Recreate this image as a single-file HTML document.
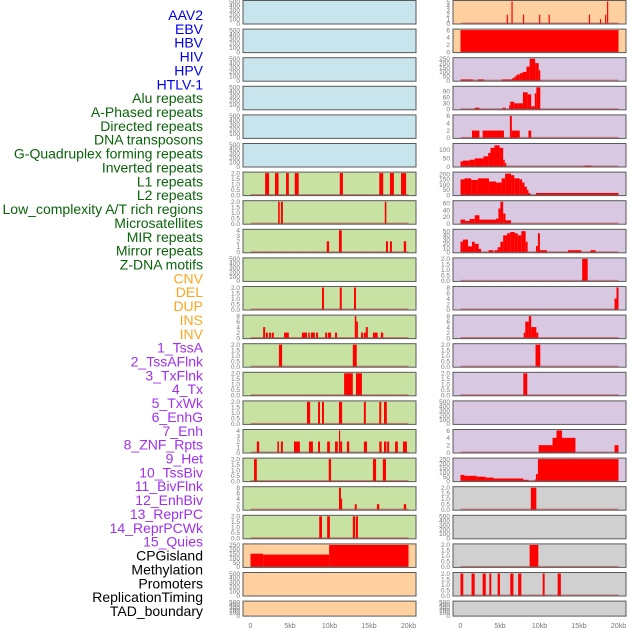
<!DOCTYPE html>
<html><head><meta charset="utf-8">
<style>
html,body{margin:0;padding:0;background:#fff;width:630px;height:630px;overflow:hidden}
svg{display:block;font-family:"Liberation Sans",sans-serif}
</style></head>
<body>
<svg id="chart" width="630" height="630" viewBox="0 0 630 630"></svg>
<script>
const labels=["AAV2","EBV","HBV","HIV","HPV","HTLV-1","Alu repeats","A-Phased repeats","Directed repeats","DNA transposons","G-Quadruplex forming repeats","Inverted repeats","L1 repeats","L2 repeats","Low_complexity A/T rich regions","Microsatellites","MIR repeats","Mirror repeats","Z-DNA motifs","CNV","DEL","DUP","INS","INV","1_TssA","2_TssAFlnk","3_TxFlnk","4_Tx","5_TxWk","6_EnhG","7_Enh","8_ZNF_Rpts","9_Het","10_TssBiv","11_BivFlnk","12_EnhBiv","13_ReprPC","14_ReprPCWk","15_Quies","CPGisland","Methylation","Promoters","ReplicationTiming","TAD_boundary"];
const labelGroups=[6,13,5,15,5];
const groupColors=["#0000ee","#0a640a","#ffa520","#a030f0","#000000"];
const xTickValues=[0,5,10,15,20];
const xTickLabels=["0","5kb","10kb","15kb","20kb"];
// segment data: [startKb, endKb, value]
const L6=[[1.85,2.35,2],[3.1,3.55,2],[4.5,4.85,2],[5.6,6.1,2],[11.3,11.7,2],[16.3,16.8,2],[17.65,18.15,2],[19.05,19.7,2]];
const L7=[[3.5,3.7,2],[3.85,4.1,2],[17.0,17.2,2]];
const L8=[[9.65,9.95,2],[11.2,11.55,4],[17.15,17.4,2],[17.65,17.9,2],[19.4,19.7,2]];
const L10=[[9.05,9.3,2],[11.3,11.55,2],[13.1,13.35,2]];
const L11=[[1.6,1.85,4],[1.95,2.2,2],[2.35,2.6,2],[2.7,2.95,2],[4.25,4.85,2],[6.5,7.15,2],[7.3,7.5,2],[7.65,8.15,2],[8.3,8.55,2],[9.45,9.7,2],[9.8,10.2,2],[10.7,10.95,2],[13.2,13.4,8],[13.4,13.6,6],[14.0,14.25,2],[14.35,14.6,2],[14.6,14.85,4],[15.5,16.1,2],[16.5,16.8,2]];
const L12=[[3.6,4.0,2],[12.95,13.45,2]];
const L13=[[11.85,12.95,2],[13.35,14.1,2]];
const L14=[[7.15,7.55,2],[8.55,8.8,2],[9.05,9.3,2],[11.2,11.6,2],[14.35,14.6,2],[16.3,16.55,2],[16.9,17.25,2]];
const L15=[[0.8,1.1,2],[3.4,3.6,2],[3.85,4.1,2],[5.5,6.25,2],[7.4,7.9,2],[8.55,8.8,2],[9.7,10.05,2],[10.7,11.05,2],[11.2,11.35,4],[11.35,11.6,2],[12.2,12.5,2],[14.35,14.75,2],[16.3,16.6,2],[16.9,17.2,2],[17.3,17.55,2],[18.3,18.65,2],[19.3,19.8,2]];
const L16=[[0.45,0.8,2],[9.9,10.2,2],[15.5,15.9,2],[16.75,17.15,2]];
const L17=[[11.2,11.45,8],[11.45,11.6,4],[13.2,13.45,2],[16.0,16.3,2],[19.4,19.7,2]];
const L18=[[8.7,9.05,2],[9.7,10.05,2],[12.95,13.25,2],[13.35,13.6,2]];
const L19=[[0,1.6,150],[1.6,9.95,140],[9.95,20,250]];
const R0=[[5.85,6.0,2],[6.45,6.6,5],[7.9,8.05,2],[9.95,10.1,2],[11.15,11.3,2],[16.25,16.4,2],[17.65,17.8,1],[18.3,18.45,2],[18.55,18.7,5]];
const R1=[[0,20,6]];
const R2=[[0,1.6,15],[2.15,3.0,15],[5.2,6.55,15],[6.55,6.85,30],[6.85,7.1,50],[7.1,7.5,70],[7.5,7.85,85],[7.85,8.35,100],[8.35,8.75,160],[8.75,9.45,250],[9.45,9.9,200],[9.9,10.1,120]];
const R3=[[1.8,2.4,8],[5.3,5.7,8],[6.15,6.3,20],[6.3,6.8,38],[6.8,7.3,30],[7.3,7.9,30],[7.9,8.5,85],[8.5,8.95,75],[8.95,9.4,15],[9.4,9.6,80],[9.6,10.1,110]];
const R4=[[1.45,2.4,2],[2.8,5.5,2],[6.25,6.5,6],[6.5,7.5,2],[8.6,8.95,2]];
const R5=[[0,0.3,30],[0.3,1.15,35],[1.15,1.8,40],[1.8,2.9,48],[2.9,3.5,60],[3.5,3.8,80],[3.8,4.3,110],[4.3,4.95,125],[4.95,5.4,110],[5.4,5.6,40],[5.6,5.8,20],[15.7,16.55,5]];
const R6=[[0,0.5,150],[0.5,1.35,160],[1.35,2.2,145],[2.2,3.6,160],[3.6,4.5,130],[4.5,5.2,120],[5.2,5.65,160],[5.65,6.4,205],[6.4,6.8,190],[6.8,7.5,160],[7.5,7.8,150],[7.8,8.1,120],[8.1,8.4,80],[8.4,8.6,50],[8.6,8.85,20],[9.55,20,20]];
const R7=[[0,0.6,12],[0.6,1.15,8],[1.15,1.8,14],[1.8,2.4,25],[2.4,4.5,12],[4.5,4.8,15],[4.8,5.05,45],[5.05,5.4,65],[5.4,5.7,30],[5.7,6.4,10]];
const R8=[[0,0.3,25],[0.3,0.95,30],[0.95,1.45,14],[1.45,1.8,25],[1.8,2.3,20],[2.3,2.6,8],[3.55,4.15,5],[4.3,4.7,5],[4.7,5.05,12],[5.05,5.4,25],[5.4,5.9,40],[5.9,6.3,45],[6.3,6.85,48],[6.85,7.25,45],[7.25,7.7,40],[7.7,8.25,50],[8.25,8.5,25],[9.55,9.8,15],[9.8,10.05,45],[10.05,10.95,5],[13.6,15.3,5],[16.45,17.1,5]];
const R9=[[15.4,16.1,2]];
const R10=[[19.5,19.75,4],[19.75,20,8]];
const R11=[[8.0,8.2,2],[8.2,8.65,6],[8.65,8.95,8],[8.95,9.6,4],[9.6,9.85,2]];
const R12=[[9.5,10.1,2]];
const R13=[[7.95,8.45,2]];
const R15=[[9.9,11.65,2],[11.65,12.15,4],[12.15,12.85,6],[12.85,14.55,4],[19.5,20,2]];
const R16=[[0,0.5,70],[0.5,2.05,60],[2.05,3.2,50],[3.2,4.2,40],[4.2,7.95,30],[7.95,8.6,15],[9.4,9.55,20],[9.55,9.8,80],[9.8,20,250]];
const R17=[[8.9,9.6,2]];
const R19=[[8.75,9.85,2]];
const R20=[[0,0.35,2],[1.4,1.8,2],[2.8,3.2,2],[3.65,3.9,2],[4.7,5.0,2],[6.3,6.7,2],[7.3,7.7,2],[10.4,10.65,2],[12.3,12.7,2]];

const T500=[0,100,200,300,400,500], T2=[0,0.5,1,1.5,2], T4=[0,1,2,3,4], T8=[0,2,4,6,8], T250=[0,50,100,150,200,250];
const BL="#c8e4ec",GR="#c8e2a4",OR="#fed0a0",PU="#d8c8e2",GY="#d0d0d0";
const panels=[
 [0,0,BL,500,T500,null],[0,1,BL,500,T500,null],[0,2,BL,500,T500,null],[0,3,BL,500,T500,null],[0,4,BL,500,T500,null],[0,5,BL,500,T500,null],
 [0,6,GR,2,T2,L6],[0,7,GR,2,T2,L7],[0,8,GR,4,T4,L8],[0,9,GR,500,T500,null],[0,10,GR,2,T2,L10],[0,11,GR,8,T8,L11],[0,12,GR,2,T2,L12],[0,13,GR,2,T2,L13],[0,14,GR,2,T2,L14],[0,15,GR,4,T4,L15],[0,16,GR,2,T2,L16],[0,17,GR,8,T8,L17],[0,18,GR,2,T2,L18],
 [0,19,OR,250,T250,L19],[0,20,OR,500,T500,null],[0,21,OR,500,T500,null],
 [1,0,OR,5,[0,1,2,3,4,5],R0],[1,1,OR,6,[0,2,4,6],R1],[1,2,PU,250,T250,R2],[1,3,PU,110,[0,30,60,90],R3],[1,4,PU,6,[0,2,4,6],R4],[1,5,PU,130,[0,50,100],R5],[1,6,PU,210,[0,50,100,150,200],R6],[1,7,PU,65,[0,20,40,60],R7],[1,8,PU,52,[0,10,20,30,40,50],R8],
 [1,9,PU,2,T2,R9],[1,10,PU,8,T8,R10],[1,11,PU,8,T8,R11],[1,12,PU,2,T2,R12],[1,13,PU,2,T2,R13],[1,14,PU,500,T500,null],[1,15,PU,6,[0,2,4,6],R15],[1,16,PU,250,T250,R16],
 [1,17,GY,2,T2,R17],[1,18,GY,500,T500,null],[1,19,GY,2,T2,R19],[1,20,GY,2,T2,R20],[1,21,GY,500,T500,null]
];
const NS="http://www.w3.org/2000/svg";
const svg=document.getElementById('chart');
function mk(tag,attrs,parent){const e=document.createElementNS(NS,tag);for(const k in attrs)e.setAttribute(k,attrs[k]);(parent||svg).appendChild(e);return e;}
const colX=[243,453], panelW=173, x0Off=7.5, kbPx=7.9;
function xScale(col,kb){return colX[col]+x0Off+kb*kbPx;}
function rowTop(r){return r*28.6;}
function rowH(r){return r===21?16:24.5;}
let li=0;
labelGroups.forEach((n,g)=>{for(let k=0;k<n;k++){const t=mk('text',{x:203,y:15+li*13.86+5,'text-anchor':'end','font-size':14,fill:groupColors[g]});


t.textContent=labels[li];li++;}});
panels.forEach(p=>{
 const [col,row,bg,ymax,ticks,data]=p;
 const top=rowTop(row),h=rowH(row),bot=top+h-1,yr=h-2.5;
 const ys=v=>bot-v/ymax*yr;
 const g=mk('g',{});
 
 
 mk('rect',{x:colX[col],y:top+0.5,width:panelW,height:h-1,fill:bg},g);
 if(data){
  data.forEach(d=>{const x1=xScale(col,d[0]),x2=xScale(col,d[1]);
   const r=mk('rect',{x:x1,y:ys(d[2]),width:Math.max(x2-x1,1),height:bot-ys(d[2]),fill:'#ff0000'},g);
   
   });
  mk('line',{x1:xScale(col,0),x2:xScale(col,20),y1:bot-0.3,y2:bot-0.3,stroke:'rgba(190,50,50,0.55)','stroke-width':1.5},g);
 }
 mk('rect',{x:colX[col],y:top+0.5,width:panelW,height:h-1,fill:'none',stroke:'#5a5a5a','stroke-width':1},g);
 const dec=ticks.some(v=>v%1!==0);
 ticks.forEach(v=>{const t=mk('text',{x:colX[col]-3,y:ys(v)+2.3,'text-anchor':'end','font-size':6.5,fill:'#777'},g);
  
  
  t.textContent=dec?v.toFixed(1):String(v);});
});
[0,1].forEach(col=>{xTickValues.forEach((v,i)=>{const t=mk('text',{x:xScale(col,v),y:628,'text-anchor':'middle','font-size':7,fill:'#777'});
 
 
 t.textContent=xTickLabels[i];});});
</script>
</body></html>
